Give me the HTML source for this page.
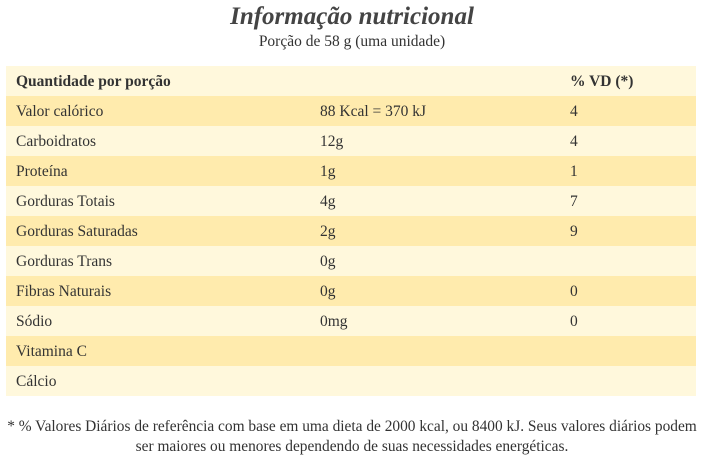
<!DOCTYPE html>
<html><head><meta charset="utf-8"><style>
body{margin:0;width:704px;height:467px;background:#fff;font-family:"Liberation Serif",serif;color:#333;position:relative;overflow:hidden}
h1{position:absolute;top:2px;left:0;width:704px;margin:0;text-align:center;font-size:25px;font-style:italic;font-weight:bold;color:#444;line-height:30px}
.sub{position:absolute;top:32px;left:0;width:704px;text-align:center;font-size:15.5px;line-height:20px}
table{position:absolute;top:66px;left:6px;width:690px;border-collapse:collapse;font-size:15.5px}
td{height:30px;padding:2px 0 0 0;box-sizing:border-box;line-height:28px}
td.c1{padding-left:10px;width:314px}
td.c2{width:250px}
tr.l{background:#fff8dc}tr.d{background:#ffebad}
.foot{position:absolute;top:417px;left:0;width:704px;text-align:center;font-size:15.4px;line-height:20px;white-space:nowrap}
</style></head><body>
<h1>Informação nutricional</h1>
<div class="sub">Porção de 58 g (uma unidade)</div>
<table>
<tr class="l"><td class="c1"><b>Quantidade por porção</b></td><td class="c2"></td><td><b>% VD (*)</b></td></tr>
<tr class="d"><td class="c1">Valor calórico</td><td>88 Kcal = 370 kJ</td><td>4</td></tr>
<tr class="l"><td class="c1">Carboidratos</td><td>12g</td><td>4</td></tr>
<tr class="d"><td class="c1">Proteína</td><td>1g</td><td>1</td></tr>
<tr class="l"><td class="c1">Gorduras Totais</td><td>4g</td><td>7</td></tr>
<tr class="d"><td class="c1">Gorduras Saturadas</td><td>2g</td><td>9</td></tr>
<tr class="l"><td class="c1">Gorduras Trans</td><td>0g</td><td></td></tr>
<tr class="d"><td class="c1">Fibras Naturais</td><td>0g</td><td>0</td></tr>
<tr class="l"><td class="c1">Sódio</td><td>0mg</td><td>0</td></tr>
<tr class="d"><td class="c1">Vitamina C</td><td></td><td></td></tr>
<tr class="l"><td class="c1">Cálcio</td><td></td><td></td></tr>
</table>
<div class="foot">* % Valores Diários de referência com base em uma dieta de 2000 kcal, ou 8400 kJ. Seus valores diários podem<br>ser maiores ou menores dependendo de suas necessidades energéticas.</div>
</body></html>
